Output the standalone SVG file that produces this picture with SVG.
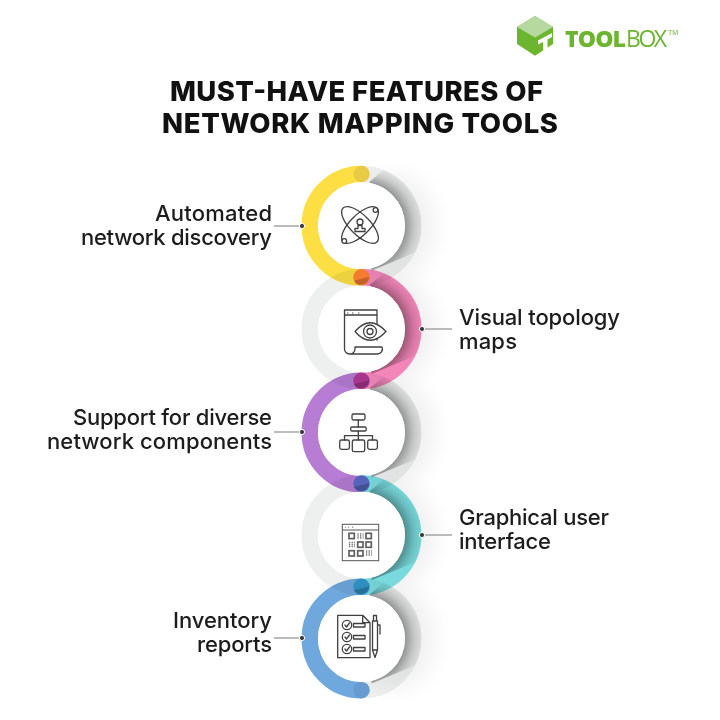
<svg xmlns="http://www.w3.org/2000/svg" xmlns:xlink="http://www.w3.org/1999/xlink" width="720" height="720" viewBox="0 0 720 720">
<style>
.t{font-family:Inter,"Liberation Sans",sans-serif;font-weight:800;font-size:27.5px;fill:#111}
.l{font-family:Inter,"Liberation Sans",sans-serif;font-weight:500;font-size:22px;fill:#1c1c1c}
.arc{fill:none;stroke-width:16.5;mix-blend-mode:multiply}
.g{stroke:#eef0f0}
.sh{mix-blend-mode:multiply}
.in{fill:#fff}
.i{fill:none;stroke:#404040;stroke-width:1.3;stroke-linejoin:round;stroke-linecap:round}
.d{fill:none;stroke:#666;stroke-width:1.3;stroke-dasharray:1.2 1.4}
.b{fill:none;stroke:#606060;stroke-width:1.7}
.c{stroke:#7a7a7a;stroke-width:1.2;fill:none}
.p{fill:#3a3a3a;stroke:#fff;stroke-width:1}
</style>
<defs>
<path id="aL" d="M0,-51.75A51.75,51.75 0 0 0 0,51.75"/>
<path id="aR" d="M0,-51.75A51.75,51.75 0 0 1 0,51.75"/>
<radialGradient id="sg" cx=".5" cy=".5" r=".6">
<stop offset=".7" stop-color="#000" stop-opacity=".34"/>
<stop offset=".85" stop-color="#000" stop-opacity=".12"/>
<stop offset=".97" stop-color="#000" stop-opacity=".02"/>
</radialGradient>
<clipPath id="sc"><path d="M8,-44L30,-62H70V20L10,45Z"/></clipPath>
<filter id="bl" x="-50%" y="-50%" width="200%" height="200%"><feGaussianBlur stdDeviation="10"/></filter>
<circle id="sh" r="51.75" fill="none" stroke="url(#sg)" stroke-width="16.5" clip-path="url(#sc)"/>
<path id="js" d="M-7.6,3.5L7.6,-0.5A8.25,8.25 0 0 1 -7.6,3.5Z" fill="#000" opacity=".2"/>
</defs>
<rect width="720" height="720" fill="#fff"/>
<g id="soft" opacity=".05" filter="url(#bl)">
<ellipse cx="395" cy="226" rx="42" ry="52"/>
<ellipse cx="395" cy="329" rx="42" ry="52"/>
<ellipse cx="395" cy="432" rx="42" ry="52"/>
<ellipse cx="395" cy="535" rx="42" ry="52"/>
<ellipse cx="395" cy="638" rx="42" ry="52"/>
</g>
<g id="logo">
<path d="M535,16L553,27V44L535,55.7L517,44V27Z" fill="#6cb52f"/>
<path d="M535,16L553,27L535,37.5L517,27Z" fill="#b6d99f"/>
<path d="M538,40.5L552,33V37L547.5,39.5V50.5L543,53V42L538,44.5Z" fill="#fff"/>
<text x="565" y="46.7" font-family="'Open Sans','Liberation Sans',sans-serif" font-size="23" fill="#6cb52f"><tspan font-weight="800" textLength="61">TOOL</tspan><tspan font-weight="400" dx="1" textLength="41">BOX</tspan></text>
<text x="668" y="35" font-family="'Liberation Sans',sans-serif" font-size="7" fill="#6cb52f">TM</text>
</g>
<g id="title">
<text class="t" x="170" y="101" textLength="373">MUST-HAVE FEATURES OF</text>
<text class="t" x="162" y="133" textLength="396">NETWORK MAPPING TOOLS</text>
</g>
<g id="connectors">
<path class="c" d="M274,226H302M422,329H452M274,432H302M422,535H452M274,638H302"/>
</g>
<g id="node1">
<use href="#aL" x="361.5" y="225.7" class="arc" stroke="#fedf43"/>
<use href="#aR" x="361.5" y="225.7" class="arc g"/>
<use href="#sh" x="361.5" y="225.7" class="sh"/>
<circle class="in" cx="361.5" cy="225.7" r="43.5"/>
<circle cx="361.5" cy="174" r="8.25" fill="#e9ca45"/>
<circle class="p" cx="302" cy="226" r="2.6"/>
<g class="i">
<ellipse cx="360" cy="225" rx="24" ry="10" transform="rotate(-45 360 225)"/>
<ellipse cx="360" cy="225" rx="24" ry="10" transform="rotate(45 360 225)"/>
<circle cx="375.5" cy="210" r="2.3" fill="#fff"/>
<circle cx="344.3" cy="241" r="2.3" fill="#fff"/>
<circle cx="360" cy="222" r="3" fill="#fff"/>
<path d="M355,231.5V228.5H358V225.5H362V228.5H365V231.5Z" fill="#fff"/>
</g>
<text class="l" x="155" y="220.8" textLength="117">Automated</text>
<text class="l" x="81" y="244.8" textLength="191">network discovery</text>
</g>
<g id="node2">
<use href="#aL" x="361.5" y="329" class="arc g"/>
<use href="#aR" x="361.5" y="329" class="arc" stroke="#ff8dc2"/>
<use href="#sh" x="361.5" y="329" class="sh"/>
<circle class="in" cx="361.5" cy="329" r="43.5"/>
<circle cx="361.5" cy="277.3" r="8.25" fill="#f47b30"/>
<use href="#js" x="361.5" y="277.3"/>
<circle class="p" cx="422" cy="329" r="2.6"/>
<g class="i">
<path d="M377,340V310H344.5V349A5,5 0 0 0 349.5,354H377A5,5 0 0 0 382,347H355V349A5,5 0 0 1 349.5,354M344.5,315H377M377,322V318"/>
<path d="M355,331.5Q370,314 386,331.5Q370,349 355,331.5Z" fill="#fff"/>
<circle cx="370" cy="331.5" r="6.5"/>
<circle cx="370" cy="331.5" r="3"/>
</g>
<path d="M347,313h1.5M352,313h1.5M358,313h1.5" stroke="#606060" stroke-width="1"/>
<text class="l" x="459" y="324.8" textLength="161">Visual topology</text>
<text class="l" x="459" y="348.8" textLength="58">maps</text>
</g>
<g id="node3">
<use href="#aL" x="361.5" y="432.5" class="arc" stroke="#b77cd4"/>
<use href="#aR" x="361.5" y="432.5" class="arc g"/>
<use href="#sh" x="361.5" y="432.5" class="sh"/>
<circle class="in" cx="361.5" cy="432.5" r="43.5"/>
<circle cx="361.5" cy="380.8" r="8.25" fill="#a8368f"/>
<use href="#js" x="361.5" y="380.8"/>
<circle class="p" cx="302" cy="432" r="2.6"/>
<g class="i">
<rect x="352" y="414" width="13" height="6" rx="1.5"/>
<rect x="350.7" y="427" width="15.5" height="4" rx="1.2"/>
<rect x="339.7" y="440" width="9.7" height="9.3" rx="1.8"/>
<rect x="352.3" y="440" width="12.4" height="11.7" rx="1.8"/>
<rect x="367.7" y="440" width="9.7" height="9.3" rx="1.8"/>
<path d="M358.3,420V427M358.3,431V440M344.5,440V435.7H372.5V440"/>
</g>
<text class="l" x="73" y="424.8" textLength="199">Support for diverse</text>
<text class="l" x="47" y="448.8" textLength="225">network components</text>
</g>
<g id="node4">
<use href="#aL" x="361.5" y="535.3" class="arc g"/>
<use href="#aR" x="361.5" y="535.3" class="arc" stroke="#7fe5e8"/>
<use href="#sh" x="361.5" y="535.3" class="sh"/>
<circle class="in" cx="361.5" cy="535.3" r="43.5"/>
<circle cx="361.5" cy="483.6" r="8.25" fill="#5564ba"/>
<use href="#js" x="361.5" y="483.6"/>
<circle class="p" cx="422" cy="535" r="2.6"/>
<rect x="342.3" y="524.3" width="36.4" height="36.4" fill="none" stroke="#555" stroke-width="1"/>
<path d="M342.3,530H378.7" stroke="#555" stroke-width="1.2"/>
<path d="M345,527.2h1.2M348,527.2h1.2M352,527.2h1.2" stroke="#777" stroke-width="1"/>
<rect class="b" x="349" y="533.3" width="5.3" height="5.3"/>
<rect class="b" x="366" y="533.3" width="5.3" height="5.3"/>
<rect class="b" x="357.7" y="542" width="5.3" height="5.3"/>
<rect class="b" x="366" y="542" width="5.3" height="5.3"/>
<rect class="b" x="349" y="550.7" width="5.3" height="5.3"/>
<rect class="b" x="357.7" y="550.7" width="5.3" height="5.3"/>
<path class="d" d="M357.5,534h6M357.5,536h6M357.5,538h6M349,542.5h6M349,544.5h6M349,546.5h6M366,551h6M366,553h6M366,555h6"/>
<text class="l" x="459" y="524.8" textLength="150">Graphical user</text>
<text class="l" x="459" y="548.8" textLength="92">interface</text>
</g>
<g id="node5">
<use href="#aL" x="361.5" y="638.5" class="arc" stroke="#6fa8dd"/>
<use href="#aR" x="361.5" y="638.5" class="arc g"/>
<use href="#sh" x="361.5" y="638.5" class="sh"/>
<circle class="in" cx="361.5" cy="638.5" r="43.5"/>
<circle cx="361.5" cy="586.8" r="8.25" fill="#2f8ec0"/>
<use href="#js" x="361.5" y="586.8"/>
<circle cx="361.5" cy="690.2" r="8.25" fill="#669ad0"/>
<circle class="p" cx="302" cy="638" r="2.6"/>
<g class="i">
<path d="M337.7,615.3H362.7L370,622.7V657.7H337.7ZM362.7,615.3V622.7H370"/>
<circle cx="347" cy="625" r="4.7"/>
<circle cx="347" cy="637" r="4.7"/>
<circle cx="347" cy="649" r="4.7"/>
<path d="M345,625l1.5,2l3,-4M345,637l1.5,2l3,-4M345,649l1.5,2l3,-4"/>
<rect x="353.5" y="623.5" width="11.5" height="3.5"/>
<rect x="353.5" y="635.5" width="11.5" height="3.5"/>
<rect x="353.5" y="647.5" width="11.5" height="3.5"/>
<path d="M372.5,621V650L375,657.5L377.5,650V621ZM373.5,621V615.5H376.5V621M372.5,650H377.5M377.5,625H380V634"/>
</g>
<text class="l" x="173" y="627.8" textLength="99">Inventory</text>
<text class="l" x="197" y="651.8" textLength="75">reports</text>
</g>
</svg>
